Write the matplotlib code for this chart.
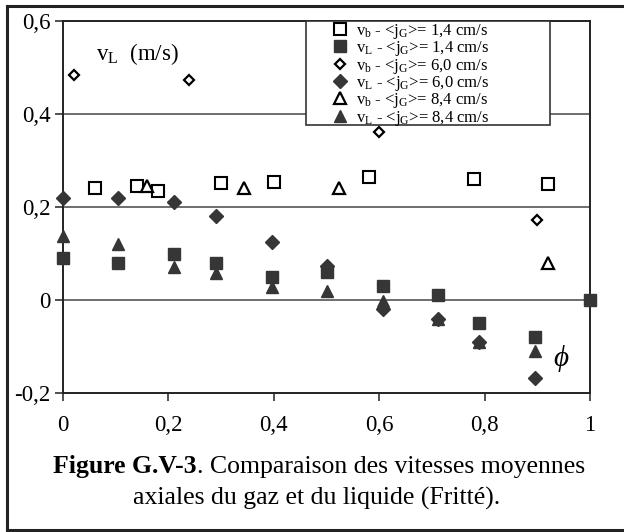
import matplotlib.pyplot as plt
from matplotlib.lines import Line2D
from matplotlib.patches import Rectangle

plt.rcParams['font.family'] = ['Liberation Serif', 'DejaVu Serif']
plt.rcParams['mathtext.fontset'] = 'custom'
plt.rcParams['mathtext.rm'] = 'Liberation Serif'
plt.rcParams['mathtext.it'] = 'Liberation Serif:italic'

# vb, <jG> = 1,4 cm/s (open squares)
vb14_x = [0.06, 0.14, 0.18, 0.30, 0.40, 0.58, 0.78, 0.92]
vb14_y = [0.241, 0.246, 0.235, 0.252, 0.253, 0.265, 0.26, 0.25]
# vL, <jG> = 1,4 cm/s (filled squares)
vl14_x = [0.0, 0.105, 0.21, 0.29, 0.396, 0.50, 0.608, 0.712, 0.79, 0.896, 1.0]
vl14_y = [0.09, 0.08, 0.10, 0.08, 0.05, 0.06, 0.03, 0.01, -0.049, -0.079, 0.0]
# vb, <jG> = 6,0 cm/s (open diamonds)
vb60_x = [0.02, 0.24, 0.60, 0.90]
vb60_y = [0.484, 0.473, 0.361, 0.172]
# vL, <jG> = 6,0 cm/s (filled diamonds)
vl60_x = [0.0, 0.105, 0.21, 0.29, 0.396, 0.50, 0.608, 0.712, 0.79, 0.896]
vl60_y = [0.22, 0.22, 0.21, 0.18, 0.125, 0.073, -0.02, -0.04, -0.09, -0.168]
# vb, <jG> = 8,4 cm/s (open triangles)
vb84_x = [0.16, 0.343, 0.523, 0.92]
vb84_y = [0.245, 0.241, 0.24, 0.08]
# vL, <jG> = 8,4 cm/s (filled triangles)
vl84_x = [0.0, 0.105, 0.21, 0.29, 0.396, 0.50, 0.608, 0.712, 0.79, 0.896]
vl84_y = [0.138, 0.12, 0.07, 0.057, 0.029, 0.019, -0.002, -0.04, -0.09, -0.109]

labels = [r"v$_\mathrm{b}$ - <j$_\mathrm{G}$>= 1,4 cm/s",
          r"v$_\mathrm{L}$ - <j$_\mathrm{G}$>= 1,4 cm/s",
          r"v$_\mathrm{b}$ - <j$_\mathrm{G}$>= 6,0 cm/s",
          r"v$_\mathrm{L}$ - <j$_\mathrm{G}$>= 6,0 cm/s",
          r"v$_\mathrm{b}$ - <j$_\mathrm{G}$>= 8,4 cm/s",
          r"v$_\mathrm{L}$ - <j$_\mathrm{G}$>= 8,4 cm/s"]
x_ticks = [0, 0.2, 0.4, 0.6, 0.8, 1]
x_ticklabels = ["0", "0,2", "0,4", "0,6", "0,8", "1"]
y_ticks = [-0.2, 0, 0.2, 0.4, 0.6]
y_ticklabels = ["-0,2", "0", "0,2", "0,4", "0,6"]

fill = '#363636'

fig = plt.figure(figsize=(6.24, 5.32), dpi=100)
ax = fig.add_axes([63 / 624, 1 - 393 / 532, (590 - 63) / 624, (393 - 21) / 532])

for y in [0, 0.2, 0.4]:
    ax.axhline(y, color='#555555', lw=1.2, zorder=1)

styles = [
    dict(marker='s', ms=8.5, mfc='white', mec='black', mew=1.5),
    dict(marker='s', ms=9, mfc=fill, mec=fill),
    dict(marker='D', ms=5.5, mfc='white', mec='black', mew=1.6),
    dict(marker='D', ms=7, mfc=fill, mec=fill),
    dict(marker='^', ms=8.5, mfc='white', mec='black', mew=1.6),
    dict(marker='^', ms=8.5, mfc=fill, mec=fill),
]
series = [(vb14_x, vb14_y), (vl14_x, vl14_y), (vb60_x, vb60_y),
          (vl60_x, vl60_y), (vb84_x, vb84_y), (vl84_x, vl84_y)]
for (xs, ys), st in zip(series, styles):
    ax.plot(xs, ys, ls='none', zorder=6, clip_on=False, **st)

ax.set_xlim(0, 1)
ax.set_ylim(-0.2, 0.6)
ax.set_xticks(x_ticks)
ax.set_xticklabels(x_ticklabels)
ax.set_yticks(y_ticks)
ax.set_yticklabels(y_ticklabels)
ax.tick_params(labelsize=16.5, length=6, width=1.2, direction='out', color='#333333')
ax.tick_params(axis='x', pad=10)
ax.tick_params(axis='y', pad=3)
for s in ax.spines.values():
    s.set_linewidth(1.4)
    s.set_color('#222222')

ax.text(0.063, 0.53, r"v$_\mathrm{L}$  (m/s)", fontsize=16.5, va='center')
ax.text(0.93, -0.125, r"$\phi$", fontsize=21, va='center')

# legend box
x0 = (306 - 63) / 527
y0 = (393 - 125) / 372
ax.add_patch(Rectangle((x0, y0), (550 - 306) / 527, 1 - y0, transform=ax.transAxes,
                       fc='white', ec='#333333', lw=1.2, zorder=4))
handles = [Line2D([], [], ls='none', **st) for st in styles]
leg = ax.legend(handles, labels, loc='upper left', bbox_to_anchor=(x0 + 22 / 527, 1.0),
                fontsize=12, frameon=False, labelspacing=-0.1, handletextpad=0.3,
                handlelength=1.3, borderpad=0.05, borderaxespad=0)
leg.set_zorder(5)

# caption: bold part followed by regular part, centred together
cy1 = 1 - 467 / 532
cy2 = 1 - 498 / 532
t_bold = fig.text(0, cy1, "Figure G.V-3", weight='bold', fontsize=18.5, va='center', ha='left')
t_rest = fig.text(0, cy1, ". Comparaison des vitesses moyennes", fontsize=18.5, va='center', ha='left')
renderer = fig.canvas.get_renderer()
w_bold = t_bold.get_window_extent(renderer).width / fig.bbox.width
w_rest = t_rest.get_window_extent(renderer).width / fig.bbox.width
start = 319 / 624 - (w_bold + w_rest) / 2
t_bold.set_x(start)
t_rest.set_x(start + w_bold)
fig.text(317 / 624, cy2, "axiales du gaz et du liquide (Fritté).",
         ha='center', va='center', fontsize=18.5)

# outer frame (right side runs off the image)
fig.add_artist(Line2D([7 / 624, 7 / 624], [1 - 6 / 532, 1 - 530 / 532], color='#222222', lw=2.2))
fig.add_artist(Line2D([7 / 624, 1], [1 - 6 / 532, 1 - 6 / 532], color='#222222', lw=2.2))
fig.add_artist(Line2D([7 / 624, 1], [1 - 530 / 532, 1 - 530 / 532], color='#222222', lw=2.2))

fig.savefig("out.png", dpi=100)
